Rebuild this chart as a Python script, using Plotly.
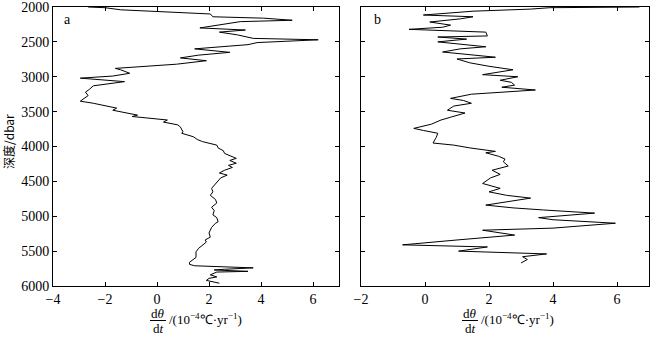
import plotly.graph_objects as go

# Panel a: depth (dbar) and dθ/dt (10^-4 °C/yr)
depth_a = [2000, 2010, 2040, 2100, 2140, 2160, 2190, 2210, 2300, 2330, 2360, 2400, 2450, 2470,
           2510, 2540, 2560, 2600, 2650, 2690, 2730, 2770, 2820, 2860, 2880, 2900, 2930, 2950,
           2990, 3020, 3070, 3130, 3180, 3220, 3270, 3330, 3350, 3380, 3430, 3450, 3480, 3550,
           3570, 3620, 3650, 3690, 3720, 3790, 3810, 3860, 3900, 3930, 3980, 4020, 4060, 4100,
           4170, 4200, 4240, 4270, 4300, 4340, 4380, 4410, 4450, 4510, 4560, 4600, 4650, 4700,
           4760, 4810, 4870, 4920, 4980, 5020, 5080, 5100, 5160, 5210, 5240, 5300, 5340, 5370,
           5420, 5460, 5510, 5590, 5660, 5690, 5710, 5740, 5760, 5770, 5790, 5800, 5840, 5870,
           5890, 5920, 5960]
val_a = [-2.65, -2.0, -1.4, 2.05, 2.15, 4.1, 5.2, 3.2, 1.65, 3.4, 2.4, 3.1, 3.7, 6.2,
         3.85, 3.5, 2.8, 1.45, 2.8, 1.6, 0.9, 1.9, 0.75, -1.05, -1.6, -1.4, -1.2, -1.05,
         -1.7, -2.95, -1.25, -2.45, -2.6, -2.75, -2.65, -2.85, -2.95, -2.45, -1.8, -1.55, -1.7, -0.75,
         -0.95, 0.4, 0.25, 0.8, 0.9, 1.0, 0.95, 1.4, 1.55, 1.75, 2.3, 2.35, 2.55, 2.6,
         3.05, 2.8, 3.05, 2.75, 2.9, 2.6, 2.4, 2.7, 2.45, 2.3, 2.2, 2.1, 2.15, 2.05,
         2.25, 2.3, 2.1, 2.2, 2.15, 2.3, 2.35, 2.25, 2.1, 2.05, 2.0, 2.05, 1.85, 1.9,
         1.75, 1.6, 1.5, 1.5, 1.25, 1.25, 1.45, 3.7, 2.6, 2.2, 3.5, 2.3, 2.05, 2.3,
         2.0, 1.9, 2.4]

# Panel b
depth_b = [2000, 2010, 2030, 2060, 2115, 2140, 2170, 2215, 2260, 2290, 2320, 2360, 2415, 2430,
           2460, 2500, 2570, 2600, 2645, 2680, 2720, 2745, 2800, 2850, 2900, 2970, 3000, 3050,
           3080, 3120, 3150, 3190, 3250, 3310, 3340, 3380, 3420, 3480, 3520, 3580, 3620, 3680,
           3740, 3770, 3810, 3870, 3950, 3980, 4020, 4070, 4090, 4140, 4180, 4220, 4280, 4340,
           4400, 4450, 4530, 4600, 4650, 4700, 4740, 4840, 4880, 4910, 4955, 5020, 5050, 5100,
           5170, 5200, 5270, 5340, 5410, 5440, 5500, 5540, 5580, 5620, 5670]
val_b = [6.7, 3.9, 3.3, 1.5, -0.05, 1.5, 1.1, 0.15, 0.8, 0.55, -0.5, 1.9, 1.95, 0.4,
         1.3, 0.4, 1.9, 1.1, 0.55, 1.4, 2.2, 1.0, 1.4, 2.0, 2.75, 1.8, 2.9, 2.35,
         2.7, 2.8, 2.4, 3.45, 1.45, 0.8, 1.2, 1.45, 0.9, 0.7, 1.25, 0.8, 0.5, 0.2,
         -0.35, -0.05, 0.4, 0.35, 0.25, 0.9, 1.4, 2.2, 1.9, 2.3, 2.5, 2.45, 2.6, 2.1,
         2.35, 2.05, 1.8, 2.35, 2.0, 2.55, 3.3, 1.9, 2.75, 3.7, 5.3, 3.55, 4.0, 5.95,
         4.0, 1.8, 2.8, 1.0, -0.7, 1.95, 1.05, 3.8, 3.05, 3.2, 3.0]

x_ticks_a = [-4, -2, 0, 2, 4, 6]
x_ticks_b = [-2, 0, 2, 4, 6]
y_ticks = [2000, 2500, 3000, 3500, 4000, 4500, 5000, 5500, 6000]

W, H = 650, 339
fig = go.Figure()
fig.add_trace(go.Scatter(x=val_a, y=depth_a, mode="lines", line=dict(color="black", width=1),
                         xaxis="x", yaxis="y", showlegend=False))
fig.add_trace(go.Scatter(x=val_b, y=depth_b, mode="lines", line=dict(color="black", width=1),
                         xaxis="x2", yaxis="y2", showlegend=False))

font = dict(family="Liberation Serif, Times New Roman, serif", size=13, color="black")
tickfont = dict(family="Liberation Serif, Times New Roman, serif", size=14, color="black")
ax_common = dict(showline=True, linecolor="black", linewidth=1, mirror="ticks", ticks="inside",
                 ticklen=4, tickcolor="black", showgrid=False, zeroline=False, tickfont=tickfont,
                 automargin=False, ticklabeloverflow="allow")
ydom = [1 - 286 / H, 1 - 7 / H]
fig.update_layout(
    template="none",
    width=W, height=H, margin=dict(l=0, r=0, t=0, b=0, pad=0),
    paper_bgcolor="white", plot_bgcolor="white", font=font,
    xaxis=dict(domain=[53 / W, 339 / W], range=[-4, 7], tickvals=x_ticks_a, anchor="y", **ax_common),
    yaxis=dict(domain=ydom, range=[6000, 1999.9], tickvals=y_ticks, anchor="x", **ax_common),
    xaxis2=dict(domain=[361 / W, 649 / W], range=[-2, 7], tickvals=x_ticks_b, anchor="y2", **ax_common),
    yaxis2=dict(domain=ydom, range=[6000, 1999.9], tickvals=y_ticks, showticklabels=False,
                anchor="x2", **ax_common),
)

ann = []
ann.append(dict(text="a", x=67 / W, y=1 - 20 / H, xref="paper", yref="paper", showarrow=False,
                font=tickfont, xanchor="center", yanchor="middle"))
ann.append(dict(text="b", x=377 / W, y=1 - 20 / H, xref="paper", yref="paper", showarrow=False,
                font=tickfont, xanchor="center", yanchor="middle"))
ann.append(dict(text="深度/dbar", x=8 / W, y=1 - 142 / H, xref="paper", yref="paper", showarrow=False,
                textangle=-90, font=dict(family="Noto Sans CJK SC, Liberation Serif", size=12, color="black"),
                xanchor="center", yanchor="middle"))
shapes = []
for fx, tx in [(158, 167), (470, 479)]:
    ann.append(dict(text="d<i>θ</i>", x=fx / W, y=1 - 313 / H, xref="paper", yref="paper",
                    showarrow=False, font=font, xanchor="center", yanchor="middle"))
    ann.append(dict(text="d<i>t</i>", x=fx / W, y=1 - 328 / H, xref="paper", yref="paper",
                    showarrow=False, font=font, xanchor="center", yanchor="middle"))
    ann.append(dict(text="/(10<sup>−4</sup>℃·yr<sup>−1</sup>)", x=tx / W, y=1 - 319 / H,
                    xref="paper", yref="paper", showarrow=False, font=font,
                    xanchor="left", yanchor="middle"))
    shapes.append(dict(type="line", xref="paper", yref="paper", x0=(fx - 8) / W, x1=(fx + 8) / W,
                       y0=1 - 320.5 / H, y1=1 - 320.5 / H, line=dict(color="black", width=1)))
fig.update_layout(annotations=ann, shapes=shapes)
fig.write_html("out.html")
